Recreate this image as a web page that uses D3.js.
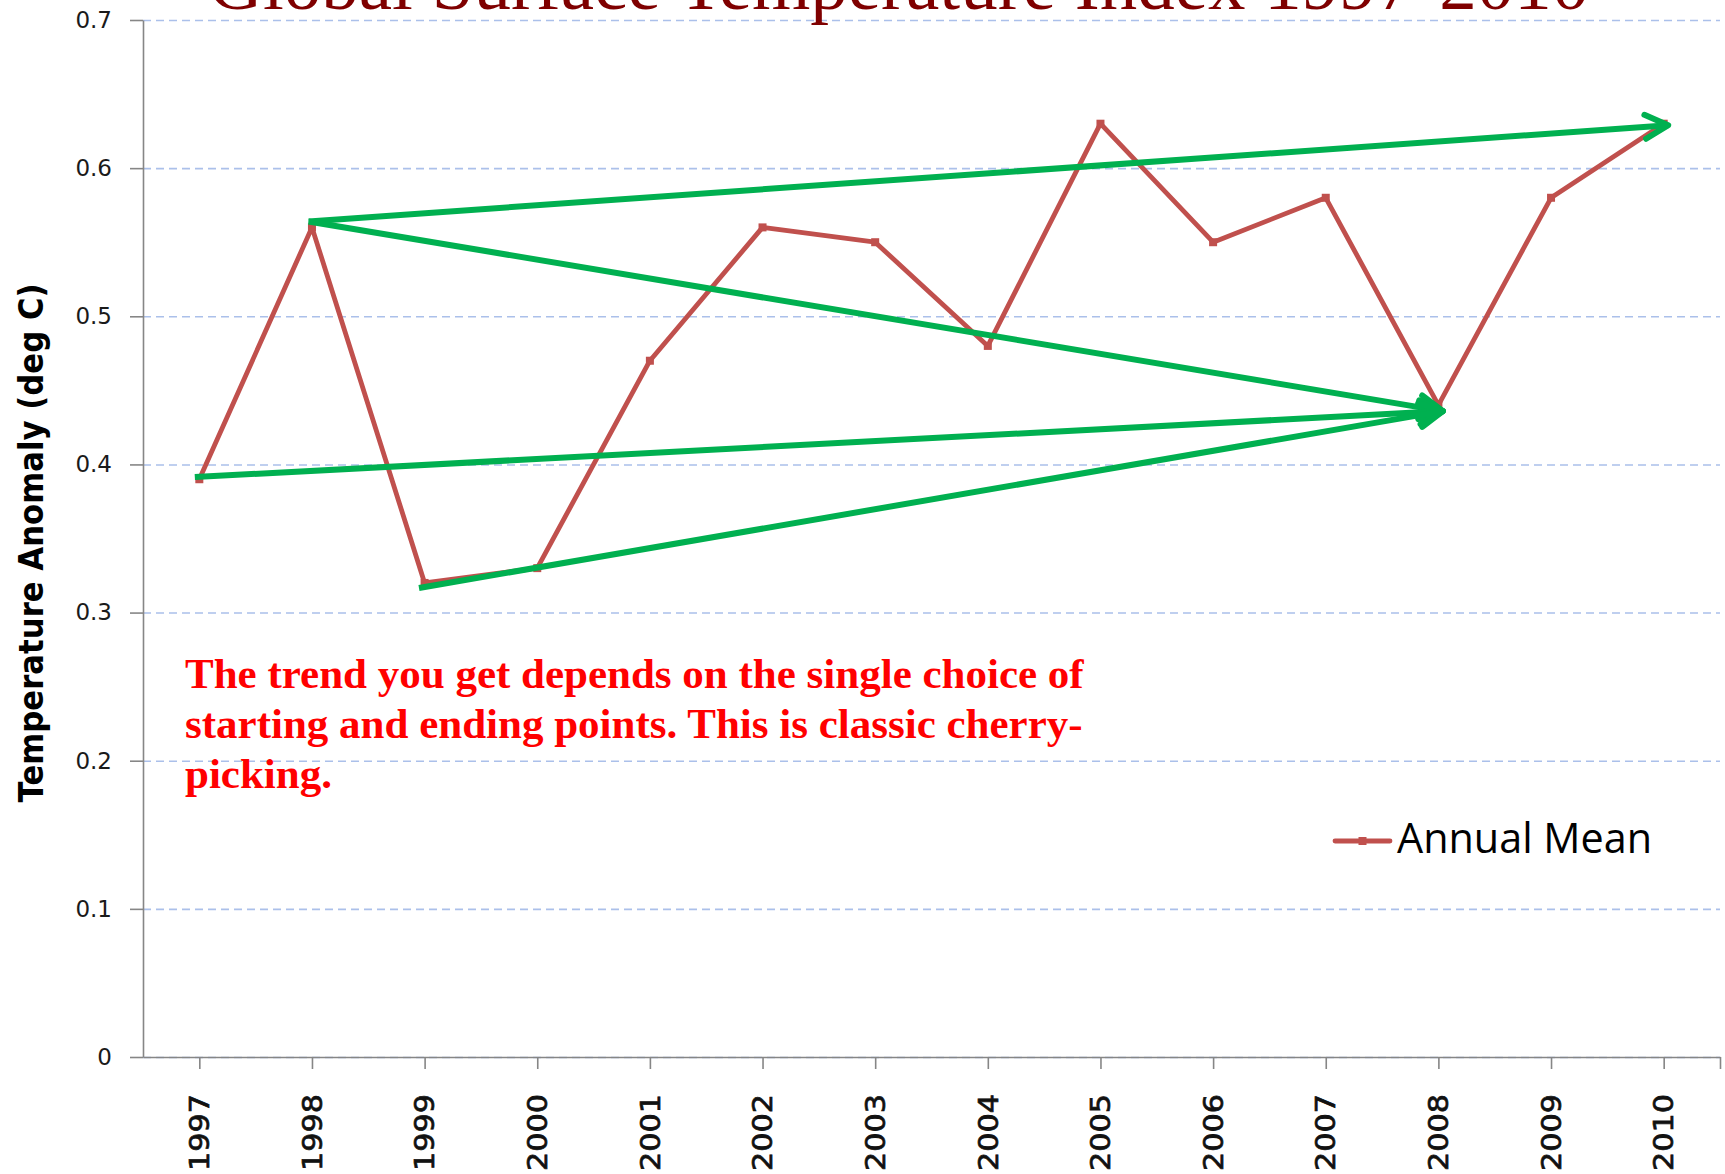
<!DOCTYPE html>
<html>
<head>
<meta charset="utf-8">
<script src="https://cdn.jsdelivr.net/npm/d3@7"></script>
<style>
  body { margin: 0; background: #fff; }
  svg { display: block; }
</style>
</head>
<body>
<div id="chart"></div>
<script>
// values
const years = [1997, 1998, 1999, 2000, 2001, 2002, 2003, 2004, 2005, 2006, 2007, 2008, 2009, 2010];
const annualMean = [0.39, 0.56, 0.32, 0.33, 0.47, 0.56, 0.55, 0.48, 0.63, 0.55, 0.58, 0.44, 0.58, 0.63];
const yTicks = [0, 0.1, 0.2, 0.3, 0.4, 0.5, 0.6, 0.7];

// the green "cherry-picking" arrows, in (year, anomaly) units
const arrowFrom = [[1997.97, 0.564], [1997.97, 0.564], [1996.96, 0.3915], [1998.95, 0.3166]];
const arrowTo   = [[2010.04, 0.629], [2008.04, 0.436], [2008.04, 0.436], [2008.04, 0.436]];

const titleText = "Global Surface Temperature Index 1997-2010";
const noteLines = [
  "The trend you get depends on the single choice of",
  "starting and ending points. This is classic cherry-",
  "picking."
];
const yLabel = "Temperature Anomaly (deg C)";
const legendLabel = "Annual Mean";

const w = 1725;
const h = 1174;
const plotLeft = 143, plotRight = 1720, plotTop = 20, plotBottom = 1057;

const svg = d3.select('#chart')
              .append('svg')
              .attr('width', w)
              .attr('height', h);

const x = d3.scaleLinear()
            .domain([years[0] - 0.5, years[years.length - 1] + 0.5])
            .range([plotLeft, plotRight]);
const y = d3.scaleLinear()
            .domain([0, 0.7])
            .range([plotBottom, plotTop]);

// gridlines
svg.append('g')
   .selectAll('line')
   .data(yTicks)
   .enter()
   .append('line')
   .attr('x1', plotLeft)
   .attr('x2', plotRight)
   .attr('y1', d => y(d) + 0.5)
   .attr('y2', d => y(d) + 0.5)
   .attr('stroke', '#abc0ea')
   .attr('stroke-width', 1.6)
   .attr('stroke-dasharray', '8,5');

// axes
const yAxis = d3.axisLeft(y)
                .tickValues(yTicks)
                .tickSize(13)
                .tickSizeOuter(0)
                .tickPadding(18)
                .tickFormat(d3.format('~g'));
const gy = svg.append('g')
              .attr('transform', 'translate(' + plotLeft + ',0)')
              .call(yAxis);
gy.selectAll('text')
  .attr('font-family', 'DejaVu Sans, Verdana, sans-serif')
  .attr('font-size', 23)
  .attr('fill', '#1a1a1a');

const xAxis = d3.axisBottom(x)
                .tickValues(years.concat([years[years.length - 1] + 0.5]))
                .tickSize(12)
                .tickSizeOuter(0)
                .tickFormat('');
const gx = svg.append('g')
              .attr('transform', 'translate(0,' + plotBottom + ')')
              .call(xAxis);

svg.selectAll('.domain, .tick line')
   .attr('stroke', '#868686')
   .attr('stroke-width', 1.6);

// rotated year labels
svg.append('g')
   .selectAll('text')
   .data(years)
   .enter()
   .append('text')
   .attr('transform', d => 'translate(' + x(d) + ',1171) rotate(-90)')
   .attr('dy', '0.36em')
   .attr('font-family', 'DejaVu Sans, Verdana, sans-serif')
   .attr('font-size', 27)
   .attr('textLength', 77)
   .attr('lengthAdjust', 'spacingAndGlyphs')
   .attr('fill', '#111')
   .attr('stroke', '#111')
   .attr('stroke-width', 0.7)
   .text(d => d);

// y axis title
svg.append('text')
   .attr('transform', 'translate(31,543) rotate(-90)')
   .attr('text-anchor', 'middle')
   .attr('dy', '0.36em')
   .attr('font-family', 'DejaVu Sans, Verdana, sans-serif')
   .attr('font-weight', 'bold')
   .attr('font-size', 34)
   .attr('textLength', 519)
   .attr('lengthAdjust', 'spacingAndGlyphs')
   .attr('fill', '#000')
   .text(yLabel);

// title (runs off the top edge like the original)
svg.append('text')
   .attr('x', 899)
   .attr('y', 9)
   .attr('text-anchor', 'middle')
   .attr('font-family', 'Liberation Serif, Times New Roman, serif')
   .attr('font-size', 75)
   .attr('fill', '#7f0000')
   .text(titleText);

// data line
const line = d3.line()
               .x((d, i) => x(years[i]))
               .y(d => y(d));
svg.append('path')
   .datum(annualMean)
   .attr('d', line)
   .attr('fill', 'none')
   .attr('stroke', '#c0504d')
   .attr('stroke-width', 4.8)
   .attr('stroke-linejoin', 'round');

svg.selectAll('rect.dot')
   .data(annualMean)
   .enter()
   .append('rect')
   .attr('class', 'dot')
   .attr('x', (d, i) => x(years[i]) - 4)
   .attr('y', d => y(d) - 4)
   .attr('width', 8)
   .attr('height', 8)
   .attr('fill', '#c0504d');

// green arrows
const defs = svg.append('defs');
defs.append('marker')
    .attr('id', 'chevron')
    .attr('markerUnits', 'userSpaceOnUse')
    .attr('viewBox', '-30 -16 34 32')
    .attr('markerWidth', 34)
    .attr('markerHeight', 32)
    .attr('refX', 0)
    .attr('refY', 0)
    .attr('orient', 'auto')
    .append('path')
    .attr('d', 'M-23,-12 L0,0 L-23,12')
    .attr('fill', 'none')
    .attr('stroke', '#00b050')
    .attr('stroke-width', 6)
    .attr('stroke-linecap', 'round')
    .attr('stroke-linejoin', 'round');

svg.append('g')
   .selectAll('line')
   .data(arrowFrom)
   .enter()
   .append('line')
   .attr('x1', d => x(d[0]))
   .attr('y1', d => y(d[1]))
   .attr('x2', (d, i) => x(arrowTo[i][0]))
   .attr('y2', (d, i) => y(arrowTo[i][1]))
   .attr('stroke', '#00b050')
   .attr('stroke-width', 6)
   .attr('marker-end', 'url(#chevron)');

// annotation
svg.append('g')
   .selectAll('text')
   .data(noteLines)
   .enter()
   .append('text')
   .attr('x', 185)
   .attr('y', (d, i) => 688 + i * 50)
   .attr('font-family', 'Liberation Serif, Times New Roman, serif')
   .attr('font-weight', 'bold')
   .attr('font-size', 43)
   .attr('fill', '#ff0000')
   .text(d => d);

// legend
const lg = svg.append('g').attr('transform', 'translate(1335,841)');
lg.append('line')
  .attr('x1', 0)
  .attr('x2', 55)
  .attr('stroke', '#c0504d')
  .attr('stroke-width', 4.8)
  .attr('stroke-linecap', 'round');
lg.append('rect')
  .attr('x', 23.5)
  .attr('y', -4)
  .attr('width', 8)
  .attr('height', 8)
  .attr('fill', '#c0504d');
lg.append('text')
  .attr('x', 62)
  .attr('y', 12)
  .attr('font-family', 'Open Sans, sans-serif')
  .attr('font-size', 42)
  .attr('textLength', 255)
  .attr('lengthAdjust', 'spacingAndGlyphs')
  .attr('fill', '#000')
  .text(legendLabel);
</script>
</body>
</html>
